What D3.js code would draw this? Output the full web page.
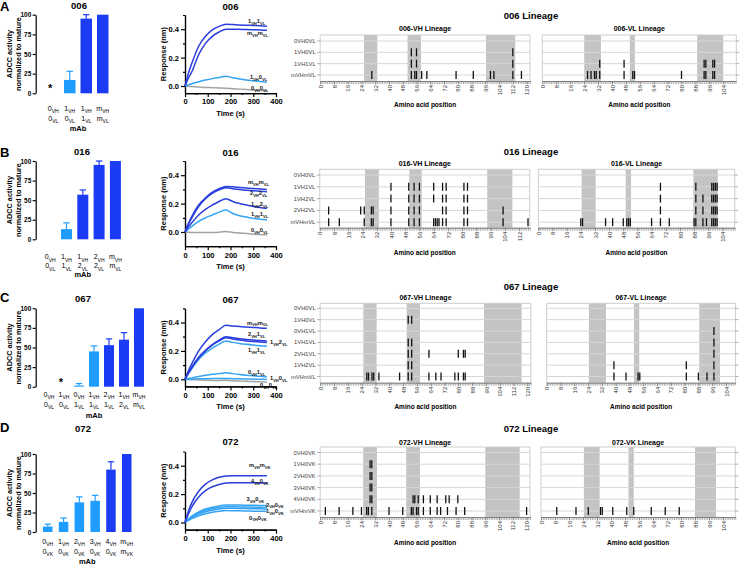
<!DOCTYPE html>
<html>
<head>
<meta charset="utf-8">
<script src="https://cdn.jsdelivr.net/npm/d3@7"></script>
<style>
html,body{margin:0;padding:0;background:#fff;}
svg{display:block;}
</style>
</head>
<body>
<svg id="fig" width="739" height="570" xmlns="http://www.w3.org/2000/svg"></svg>
<script>
// ===================== DATA =====================
const panelIds = ["006", "016", "067", "072"];
const panelLetters = ["A", "B", "C", "D"];

// tick labels
const adccTicks = [0, 25, 50, 75, 100];
const sprTimeTicks = [0, 100, 200, 300, 400];
const sprTimeMinor = [50, 150, 250, 350];
const sprRespTicks = [0, 0.2, 0.4];
const sprRespMinor = [-0.1, 0.1, 0.3, 0.5];
const aaTicks120 = [0, 8, 16, 24, 32, 40, 48, 56, 64, 72, 80, 88, 96, 104, 112, 120];
const aaTicks112 = [0, 8, 16, 24, 32, 40, 48, 56, 64, 72, 80, 88, 96, 104, 112];
const aaTicks104 = [0, 8, 16, 24, 32, 40, 48, 56, 64, 72, 80, 88, 96, 104];

// ADCC bar charts
const adcc006Mab = ["0VH0VL", "1VH0VL", "1VH1VL", "mVHmVL"];
const adcc006Mean = [0, 17, 95, 100];
const adcc006Err = [0, 11, 5, 0];
const adcc006Stage = ["nd", "int", "mat", "mat"];

const adcc016Mab = ["0VH0VL", "1VH1VL", "1VH2VL", "2VH2VL", "mVHmVL"];
const adcc016Mean = [0, 13, 57, 95, 100];
const adcc016Err = [0, 8, 6, 5, 0];
const adcc016Stage = ["int", "int", "mat", "mat", "mat"];

const adcc067Mab = ["0VH0VL", "1VH0VL", "0VH1VL", "1VH1VL", "2VH1VL", "1VH2VL", "mVHmVL"];
const adcc067Mean = [0, 0, 1.5, 45, 53, 60, 100];
const adcc067Err = [0, 0, 2.5, 7, 8, 9, 0];
const adcc067Stage = ["int", "nd", "int", "int", "mat", "mat", "mat"];

const adcc072Mab = ["0VH0VK", "1VH0VK", "2VH0VK", "3VH0VK", "4VH0VK", "mVHmVK"];
const adcc072Mean = [7, 13, 38, 40, 80, 100];
const adcc072Err = [3, 5, 7, 7, 10, 0];
const adcc072Stage = ["int", "int", "int", "int", "mat", "mat"];

// SPR / BLI sensorgrams (response in nm at sprTime seconds)
const sprTime = [0, 15, 30, 60, 90, 120, 150, 180, 210, 240, 270, 300, 330, 360];

const spr006Names = ["1VH1VL", "mVHmVL", "1VH0VL", "0VH0VL"];
const spr006Stage = ["mat", "mat", "int", "ger"];
const spr006Values = [
  [0, 0.09, 0.16, 0.28, 0.35, 0.395, 0.42, 0.435, 0.433, 0.43, 0.428, 0.426, 0.424, 0.42],
  [0, 0.055, 0.10, 0.22, 0.30, 0.35, 0.38, 0.40, 0.40, 0.399, 0.398, 0.396, 0.394, 0.392],
  [0, 0.008, 0.016, 0.03, 0.042, 0.052, 0.06, 0.068, 0.058, 0.05, 0.043, 0.037, 0.031, 0.026],
  [0, -0.002, -0.004, -0.007, -0.01, -0.012, -0.014, -0.016, -0.019, -0.022, -0.025, -0.028, -0.031, -0.034]
];

const spr016Names = ["mVHmVL", "2VH2VL", "1VH2VL", "1VH1VL", "0VH0VL"];
const spr016Stage = ["mat", "mat", "mat", "int", "ger"];
const spr016Values = [
  [0, 0.06, 0.11, 0.19, 0.24, 0.28, 0.305, 0.32, 0.318, 0.314, 0.31, 0.306, 0.303, 0.30],
  [0, 0.055, 0.10, 0.18, 0.235, 0.272, 0.298, 0.312, 0.305, 0.299, 0.294, 0.29, 0.287, 0.284],
  [0, 0.035, 0.065, 0.12, 0.16, 0.19, 0.215, 0.235, 0.215, 0.2, 0.19, 0.18, 0.172, 0.165],
  [0, 0.02, 0.04, 0.075, 0.10, 0.12, 0.14, 0.155, 0.13, 0.115, 0.105, 0.096, 0.09, 0.085],
  [0, -0.002, -0.003, -0.004, -0.004, -0.003, -0.002, 0.004, -0.003, -0.007, -0.011, -0.015, -0.018, -0.021]
];

const spr067Names = ["mVHmVL", "2VH1VL", "1VH2VL", "1VH1VL", "0VH1VL", "1VH0VL", "0VH0VL"];
const spr067Stage = ["mat", "mat", "mat", "int", "int", "int", "ger"];
const spr067Values = [
  [0, 0.06, 0.11, 0.20, 0.265, 0.315, 0.35, 0.38, 0.375, 0.371, 0.368, 0.365, 0.362, 0.36],
  [0, 0.045, 0.085, 0.155, 0.205, 0.245, 0.275, 0.30, 0.292, 0.285, 0.28, 0.276, 0.273, 0.27],
  [0, 0.043, 0.082, 0.15, 0.20, 0.24, 0.27, 0.292, 0.283, 0.276, 0.27, 0.266, 0.263, 0.26],
  [0, 0.04, 0.075, 0.14, 0.185, 0.22, 0.248, 0.27, 0.26, 0.252, 0.246, 0.241, 0.237, 0.233],
  [0, 0.005, 0.01, 0.02, 0.028, 0.035, 0.04, 0.047, 0.04, 0.034, 0.029, 0.025, 0.021, 0.018],
  [0, 0.001, 0.002, 0.003, 0.004, 0.005, 0.005, 0.006, 0.004, 0.003, 0.002, 0.001, 0.0, -0.001],
  [0, -0.002, -0.003, -0.005, -0.006, -0.008, -0.009, -0.006, -0.01, -0.012, -0.014, -0.016, -0.018, -0.02]
];

const spr072Names = ["mVHmVK", "4VH0VK", "3VH0VK", "2VH0VK", "1VH0VK", "0VH0VK"];
const spr072Stage = ["mat", "mat", "int", "int", "int", "int"];
const spr072Values = [
  [0, 0.08, 0.14, 0.22, 0.27, 0.30, 0.318, 0.328, 0.33, 0.33, 0.33, 0.33, 0.33, 0.33],
  [0, 0.06, 0.11, 0.18, 0.225, 0.252, 0.268, 0.278, 0.28, 0.28, 0.28, 0.28, 0.279, 0.278],
  [0, 0.025, 0.045, 0.075, 0.095, 0.108, 0.117, 0.124, 0.124, 0.123, 0.122, 0.121, 0.12, 0.119],
  [0, 0.022, 0.04, 0.067, 0.085, 0.097, 0.105, 0.111, 0.111, 0.11, 0.109, 0.108, 0.107, 0.106],
  [0, 0.02, 0.036, 0.06, 0.076, 0.087, 0.095, 0.10, 0.10, 0.099, 0.098, 0.097, 0.096, 0.095],
  [0, 0.015, 0.028, 0.048, 0.062, 0.072, 0.079, 0.084, 0.083, 0.082, 0.081, 0.08, 0.079, 0.078]
];

// Lineage mutation maps (amino-acid positions per row)
const lin006Rows = ["0VH0VL", "1VH0VL", "1VH1VL", "mVHmVL"];
const lin006VHMuts = [[], [53, 56, 112], [53, 56, 112], [30, 53, 55, 56, 59, 62, 79, 89, 99, 101, 112, 117]];
const lin006VHCdr = [[25.5, 33.2], [50.8, 58.6], [96.4, 113.4]];
const lin006VLMuts = [[], [], [33, 47, 93, 94, 98, 99], [26, 28, 30, 31, 33, 47, 52, 53, 80, 93, 94, 98, 99]];
const lin006VLCdr = [[24.1, 33.7], [50.3, 53.2], [89, 104]];

const lin016Rows = ["0VH0VL", "1VH1VL", "1VH2VL", "2VH2VL", "mVHmVL"];
const lin016VHMuts = [[], [40, 50, 53, 56, 64, 69, 71, 81, 83], [40, 50, 53, 56, 64, 69, 71, 81, 83],
  [5, 23, 25, 29, 30, 40, 50, 53, 56, 69, 71, 81, 83, 103],
  [5, 11, 25, 29, 30, 40, 50, 53, 56, 64, 65, 66, 67, 69, 71, 81, 83, 103, 117]];
const lin016VHCdr = [[25.4, 33.2], [50.3, 57.3], [94.1, 108.2]];
const lin016VLMuts = [[], [69, 89, 98, 99, 100, 101], [69, 89, 93, 98, 99, 100, 101], [69, 89, 93, 98, 99, 100, 101],
  [24, 25, 38, 42, 48, 50, 51, 52, 64, 69, 74, 88, 89, 93, 95, 98, 99, 100, 101]];
const lin016VLCdr = [[24.5, 32.4], [49.4, 52.4], [87.6, 101.4]];

const lin067Rows = ["0VH0VL", "1VH0VL", "0VH1VL", "1VH1VL", "2VH1VL", "1VH2VL", "mVHmVL"];
const lin067VHMuts = [[], [51, 53], [], [51, 53], [51, 53, 63, 80, 83, 84], [51, 53],
  [27, 28, 30, 31, 34, 46, 51, 53, 63, 67, 70, 78, 80, 83, 84]];
const lin067VHCdr = [[25, 32.7], [50.1, 57.8], [94.9, 116.7]];
const lin067VLMuts = [[], [], [97], [97], [97], [39, 81, 97], [39, 46, 53, 54, 81, 88, 93, 97]];
const lin067VLCdr = [[24.5, 34.4], [50.6, 53.7], [88.5, 100.5]];

const lin072Rows = ["0VH0VK", "1VH0VK", "2VH0VK", "3VH0VK", "4VH0VK", "mVHmVK"];
const lin072VHMuts = [[], [29, 30], [29, 30], [29, 30], [29, 30, 54, 55, 57, 60, 64, 68, 73, 75, 80],
  [3, 11, 19, 24, 27, 28, 30, 40, 48, 53, 54, 56, 57, 60, 64, 68, 70, 74, 79, 84, 120]];
const lin072VHCdr = [[25, 33], [50, 58], [96, 116]];
const lin072VKMuts = [[], [], [], [], [], [9, 20, 27, 34, 35, 41, 49, 53, 63, 71, 79]];
const lin072VKCdr = [[24.5, 33.5], [50, 53], [88, 100]];

// ===================== ASSEMBLY =====================
const panels = [
  { id: "006", light: "VL",
    adcc: { mab: adcc006Mab, mean: adcc006Mean, err: adcc006Err, stage: adcc006Stage },
    spr: { names: spr006Names, stage: spr006Stage, values: spr006Values },
    vh: { rows: lin006Rows, muts: lin006VHMuts, cdr: lin006VHCdr, ticks: aaTicks120 },
    vl: { rows: lin006Rows, muts: lin006VLMuts, cdr: lin006VLCdr, ticks: aaTicks104 } },
  { id: "016", light: "VL",
    adcc: { mab: adcc016Mab, mean: adcc016Mean, err: adcc016Err, stage: adcc016Stage },
    spr: { names: spr016Names, stage: spr016Stage, values: spr016Values },
    vh: { rows: lin016Rows, muts: lin016VHMuts, cdr: lin016VHCdr, ticks: aaTicks112 },
    vl: { rows: lin016Rows, muts: lin016VLMuts, cdr: lin016VLCdr, ticks: aaTicks104 } },
  { id: "067", light: "VL",
    adcc: { mab: adcc067Mab, mean: adcc067Mean, err: adcc067Err, stage: adcc067Stage },
    spr: { names: spr067Names, stage: spr067Stage, values: spr067Values },
    vh: { rows: lin067Rows, muts: lin067VHMuts, cdr: lin067VHCdr, ticks: aaTicks120 },
    vl: { rows: lin067Rows, muts: lin067VLMuts, cdr: lin067VLCdr, ticks: aaTicks104 } },
  { id: "072", light: "VK",
    adcc: { mab: adcc072Mab, mean: adcc072Mean, err: adcc072Err, stage: adcc072Stage },
    spr: { names: spr072Names, stage: spr072Stage, values: spr072Values },
    vh: { rows: lin072Rows, muts: lin072VHMuts, cdr: lin072VHCdr, ticks: aaTicks120 },
    vl: { rows: lin072Rows, muts: lin072VKMuts, cdr: lin072VKCdr, ticks: aaTicks104 } }
];

// ===================== LAYOUT =====================
const layout = [
  { letterY: 11,
    bar: { titleX: 79, titleY: 8.5, top: 14.7, base: 93.3, firstLeft: 47.5, step: 16.5, w: 11.5, lab: [17.5, 27.5, 37.5] },
    spr: { titleY: 10, zero: 86, min: -0.05, labels: [[248, 23], [247, 35], [250, 79], [251, 90]] },
    lin: { title: 19, sub: 31, top: 35, row0: 41, step: 11.33, axis: 81, aap: 107,
           vh: { x0: 320.2, k: 1.72, len: 122 }, vl: { x0: 542.3, k: 1.74, len: 111.5 } } },
  { letterY: 157,
    bar: { titleX: 82, titleY: 155, top: 161, base: 239.3, firstLeft: 44.7, step: 16.3, w: 11, lab: [20, 29, 38] },
    spr: { titleY: 156, zero: 232, min: -0.1, labels: [[248, 184], [250, 195], [251, 206], [251, 216], [251, 232]] },
    lin: { title: 155, sub: 166, top: 169.3, row0: 175, step: 11.8, axis: 227.7, aap: 255,
           vh: { x0: 319.75, k: 1.78, len: 118 }, vl: { x0: 538.3, k: 1.77, len: 111 } } },
  { letterY: 302,
    bar: { titleX: 83, titleY: 302, top: 308.3, base: 386.7, firstLeft: 44, step: 15, w: 10, lab: [10.5, 20.5, 31] },
    spr: { titleY: 303, zero: 379.3, min: -0.05,
           labels: [[247, 324.5], [248, 336], [270, 344], [248, 352], [248, 374], [270, 380], [260, 387]] },
    lin: { title: 290, sub: 299.5, top: 303.3, row0: 308.3, step: 11.37, axis: 382.7, aap: 409,
           vh: { x0: 320.2, k: 1.726, len: 122 }, vl: { x0: 546.7, k: 1.724, len: 109.5 } } },
  { letterY: 432,
    bar: { titleX: 83, titleY: 432, top: 454, base: 532, firstLeft: 43, step: 15.8, w: 9.5, lab: [11.5, 21.5, 32] },
    spr: { titleY: 445, zero: 522.5, min: -0.05,
           labels: [[249, 467], [251, 483], [246.5, 501], [266, 506.5], [266, 513], [249, 519.5]] },
    lin: { title: 432, sub: 445, top: 447, row0: 452.5, step: 11.7, axis: 517, aap: 545,
           vh: { x0: 320.2, k: 1.72, len: 122 }, vl: { x0: 541, k: 1.75, len: 111 } } }
];

const F = '"Liberation Sans", Arial, Helvetica, sans-serif';
const BAR_COL = { mat: "#1b3cf4", int: "#1e9cff", nd: "#1e9cff" };
const LINE_COL = { mat: "#2a3fdc", int: "#34a3f4", ger: "#a3a3a3" };
const BAR_AXIS_X = 35.7;

const svg = d3.select("#fig");
svg.append("rect").attr("width", 739).attr("height", 570).attr("fill", "#fff");

function addCode(t, code, size, subSize, which) {
  const pairs = [...code.matchAll(/([0-9m])(VH|VL|VK)/g)];
  const use = which === undefined ? pairs : [pairs[which]];
  const shift = size * 0.32;
  let cur = 0;
  use.forEach(m => {
    t.append("tspan").attr("font-size", size).attr("dy", -cur).text(m[1]);
    t.append("tspan").attr("font-size", subSize).attr("dy", shift).text(m[2]);
    cur = shift;
  });
}

function styleAxis(a, fs, bold, col, sw) {
  a.attr("font-family", F).attr("font-size", fs).attr("font-weight", bold ? "bold" : "normal");
  a.selectAll("path.domain").attr("stroke", col || "#000").attr("stroke-width", sw || 1.2);
  a.selectAll(".tick line").attr("stroke", col || "#000").attr("stroke-width", sw || 1.2);
  a.selectAll("text").attr("fill", "#000");
}

function drawBars(p, L) {
  const g = svg.append("g");
  const B = L.bar;
  const n = p.adcc.mab.length;
  const pad = 1 - B.w / B.step;
  const r0 = B.firstLeft - (B.step - B.w) / 2;
  const x = d3.scaleBand().domain(p.adcc.mab).range([r0, r0 + n * B.step]).paddingInner(pad).paddingOuter(pad / 2);
  const y = d3.scaleLinear().domain([0, 100]).range([B.base, B.top]);

  const ax = g.append("g").attr("transform", `translate(${BAR_AXIS_X},0)`)
    .call(d3.axisLeft(y).tickValues(adccTicks).tickSize(3).tickSizeOuter(0).tickPadding(1.5));
  styleAxis(ax, 6.4, true);

  p.adcc.mab.forEach((m, i) => {
    const v = p.adcc.mean[i], e = p.adcc.err[i], st = p.adcc.stage[i];
    const cx = x(m) + x.bandwidth() / 2;
    if (st === "nd") {
      g.append("text").attr("x", cx - 3).attr("y", y(0) - 1).attr("text-anchor", "middle")
        .attr("font-family", F).attr("font-size", 11).attr("font-weight", "bold").text("*");
    } else if (v > 0) {
      g.append("rect").attr("x", x(m)).attr("y", y(v)).attr("width", x.bandwidth())
        .attr("height", y(0) - y(v)).attr("fill", BAR_COL[st]);
      if (e > 0) {
        g.append("line").attr("x1", cx).attr("x2", cx).attr("y1", y(v)).attr("y2", y(v + e))
          .attr("stroke", BAR_COL[st]).attr("stroke-width", 1.2);
        g.append("line").attr("x1", cx - 3.2).attr("x2", cx + 3.2).attr("y1", y(v + e)).attr("y2", y(v + e))
          .attr("stroke", BAR_COL[st]).attr("stroke-width", 1.2);
      }
    }
    [0, 1].forEach(k => {
      const t = g.append("text").attr("x", cx).attr("y", B.base + B.lab[k]).attr("text-anchor", "middle")
        .attr("font-family", F).attr("fill", "#000");
      addCode(t, m, 7, 5, k);
    });
  });
  const [ra, rb] = x.range();
  g.append("text").attr("x", (ra + rb) / 2).attr("y", B.base + B.lab[2]).attr("text-anchor", "middle")
    .attr("font-family", F).attr("font-size", 7.5).attr("font-weight", "bold").text("mAb");
  const mid = (B.top + B.base) / 2;
  g.append("text").attr("transform", `translate(11.5,${mid}) rotate(-90)`).attr("text-anchor", "middle")
    .attr("font-family", F).attr("font-size", 7.3).attr("font-weight", "bold").text("ADCC activity");
  g.append("text").attr("transform", `translate(20.6,${mid}) rotate(-90)`).attr("text-anchor", "middle")
    .attr("font-family", F).attr("font-size", 7.3).attr("font-weight", "bold").text("normalized to mature");
  g.append("text").attr("x", B.titleX).attr("y", B.titleY).attr("text-anchor", "middle")
    .attr("font-family", F).attr("font-size", 9.5).attr("font-weight", "bold").text(p.id);
}

function drawSpr(p, L) {
  const g = svg.append("g");
  const S = L.spr;
  const x = d3.scaleLinear().domain([0, 400]).range([185, 276]);
  const y = d3.scaleLinear().domain([S.min, 0.5]).range([S.zero - 142 * S.min, S.zero - 71]);
  const axisY = y(S.min);

  const ayMinor = g.append("g").attr("transform", "translate(185,0)")
    .call(d3.axisLeft(y).tickValues(sprRespMinor.filter(v => v > S.min && v <= 0.5)).tickSize(2).tickSizeOuter(0).tickFormat(""));
  styleAxis(ayMinor, 7.5, true);
  const ay = g.append("g").attr("transform", "translate(185,0)")
    .call(d3.axisLeft(y).tickValues(sprRespTicks).tickSize(4).tickSizeOuter(0).tickPadding(2).tickFormat(d3.format(".1f")));
  styleAxis(ay, 7.5, true);
  const axMinor = g.append("g").attr("transform", `translate(0,${axisY})`)
    .call(d3.axisBottom(x).tickValues(sprTimeMinor).tickSize(2).tickSizeOuter(0).tickFormat(""));
  styleAxis(axMinor, 7.5, true);
  const axx = g.append("g").attr("transform", `translate(0,${axisY})`)
    .call(d3.axisBottom(x).tickValues(sprTimeTicks).tickSize(4).tickSizeOuter(0).tickPadding(2));
  styleAxis(axx, 7.5, true);

  const line = d3.line().x((d, i) => x(sprTime[i])).y(d => y(d)).curve(d3.curveMonotoneX);
  const order = p.spr.names.map((n, i) => i).reverse();
  order.forEach(i => {
    g.append("path").attr("d", line(p.spr.values[i])).attr("fill", "none")
      .attr("stroke", LINE_COL[p.spr.stage[i]]).attr("stroke-width", 1.5);
  });
  p.spr.names.forEach((nm, i) => {
    const pos = S.labels[i];
    const t = g.append("text").attr("x", pos[0]).attr("y", pos[1]).attr("font-family", F)
      .attr("font-weight", "bold").attr("fill", "#111");
    addCode(t, nm, 5.6, 4.1);
  });
  g.append("text").attr("x", 230.5).attr("y", S.titleY).attr("text-anchor", "middle")
    .attr("font-family", F).attr("font-size", 9.5).attr("font-weight", "bold").text(p.id);
  g.append("text").attr("x", 230.5).attr("y", axisY + 23).attr("text-anchor", "middle")
    .attr("font-family", F).attr("font-size", 7.5).attr("font-weight", "bold").text("Time (s)");
  g.append("text").attr("transform", `translate(166,${(y.range()[0] + y.range()[1]) / 2}) rotate(-90)`)
    .attr("text-anchor", "middle").attr("font-family", F).attr("font-size", 7.5).attr("font-weight", "bold")
    .text("Response (nm)");
}

function drawLineage(chain, cfg, Lin, title, isVH) {
  const g = svg.append("g");
  const x = d3.scaleLinear().domain([0, cfg.len]).range([cfg.x0, cfg.x0 + cfg.k * cfg.len]);
  const rows = chain.rows;
  const y = d3.scalePoint().domain(rows).range([Lin.row0, Lin.row0 + Lin.step * (rows.length - 1)]);
  const top = Lin.top, bot = Lin.axis;
  const [xa, xb] = x.range();

  g.selectAll("rect.cdr").data(chain.cdr).join("rect").attr("class", "cdr")
    .attr("x", d => x(d[0])).attr("width", d => x(d[1]) - x(d[0]))
    .attr("y", top).attr("height", bot - top).attr("fill", "#c4c4c4");
  g.append("path").attr("d", `M${xa},${bot}V${top}H${xb}V${bot}`).attr("fill", "none")
    .attr("stroke", "#cdcdcd").attr("stroke-width", 1);
  rows.forEach(r => {
    g.append("line").attr("x1", xa).attr("x2", xb).attr("y1", y(r)).attr("y2", y(r))
      .attr("stroke", "#d6d6d6").attr("stroke-width", 1);
  });
  chain.muts.forEach((arr, ri) => {
    arr.forEach(pos => {
      g.append("line").attr("x1", x(pos)).attr("x2", x(pos))
        .attr("y1", y(rows[ri]) - 4).attr("y2", y(rows[ri]) + 4)
        .attr("stroke", "#111").attr("stroke-width", 1.3);
    });
  });
  const minor = g.append("g").attr("transform", `translate(0,${bot})`)
    .call(d3.axisBottom(x).tickValues(d3.range(0, cfg.len + 0.001, 1)).tickSize(3).tickSizeOuter(0).tickFormat(""));
  styleAxis(minor, 6, false, "#8c8c8c", 0.7);
  minor.select("path.domain").attr("stroke", "#777").attr("stroke-width", 1);
  const major = g.append("g").attr("transform", `translate(0,${bot})`)
    .call(d3.axisBottom(x).tickValues(chain.ticks).tickSize(3.5).tickSizeOuter(0));
  styleAxis(major, 6, false, "#777", 0.8);
  major.select("path.domain").remove();
  major.selectAll("text").attr("y", 0).attr("x", -4).attr("dy", "0.35em")
    .attr("transform", "rotate(-90)").style("text-anchor", "end").attr("fill", "#333");

  if (isVH) {
    rows.forEach(r => {
      g.append("line").attr("x1", xa - 3).attr("x2", xa).attr("y1", y(r)).attr("y2", y(r))
        .attr("stroke", "#999").attr("stroke-width", 0.8);
      g.append("text").attr("x", xa - 4.5).attr("y", y(r)).attr("dy", "0.35em").attr("text-anchor", "end")
        .attr("font-family", F).attr("font-size", 5.8).attr("fill", "#444").text(r);
    });
  } else {
    rows.forEach(r => {
      g.append("line").attr("x1", xb).attr("x2", xb + 3).attr("y1", y(r)).attr("y2", y(r))
        .attr("stroke", "#999").attr("stroke-width", 0.8);
    });
  }
  g.append("text").attr("x", (xa + xb) / 2).attr("y", Lin.sub).attr("text-anchor", "middle")
    .attr("font-family", F).attr("font-size", 7).attr("font-weight", "bold").text(title);
  g.append("text").attr("x", (xa + xb) / 2).attr("y", Lin.aap).attr("text-anchor", "middle")
    .attr("font-family", F).attr("font-size", 6.5).attr("font-weight", "bold").text("Amino acid position");
}

panels.forEach((p, i) => {
  const L = layout[i];
  svg.append("text").attr("x", 0).attr("y", L.letterY).attr("font-family", F).attr("font-size", 13)
    .attr("font-weight", "bold").text(panelLetters[i]);
  drawBars(p, L);
  drawSpr(p, L);
  drawLineage(p.vh, L.lin.vh, L.lin, p.id + "-VH Lineage", true);
  drawLineage(p.vl, L.lin.vl, L.lin, p.id + "-" + p.light + " Lineage", false);
  svg.append("text").attr("x", 531).attr("y", L.lin.title).attr("text-anchor", "middle")
    .attr("font-family", F).attr("font-size", 9.5).attr("font-weight", "bold").text(p.id + " Lineage");
});
</script>
</body>
</html>
